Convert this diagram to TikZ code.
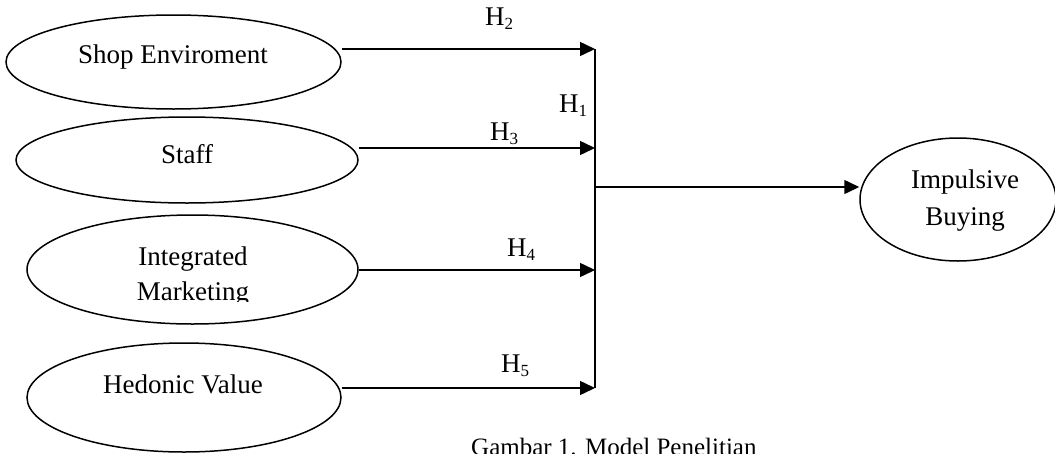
\documentclass[tikz,border=0pt]{standalone}
\usepackage{fontspec}
\setmainfont{Liberation Serif}
\usetikzlibrary{shapes.geometric,arrows.meta}
\newcommand{\hlab}[1]{H\raisebox{-4pt}{\fontsize{17}{17}\selectfont #1}}
\tikzset{
  oval/.style={draw, ellipse, line width=1.5pt, inner sep=0pt},
  lbl/.style={anchor=base, inner sep=0pt, font=\fontsize{27}{32}\selectfont},
  arr/.style={line width=1.5pt, -{Triangle[length=15pt,width=14pt]}},
  ln/.style={line width=1.5pt}
}
\begin{document}
\begin{tikzpicture}[x=1pt,y=-1pt]
\useasboundingbox (0,0) rectangle (1055,453);
% ellipses
\node[oval, minimum width=335pt, minimum height=94pt] (e1) at (173.5,62) {};
\node[oval, minimum width=342pt, minimum height=86pt] (e2) at (187,160) {};
\node[oval, minimum width=331pt, minimum height=109pt] (e3) at (192.5,269.5) {};
\node[oval, minimum width=314pt, minimum height=109pt] (e4) at (184,397.5) {};
\node[oval, minimum width=196pt, minimum height=123pt] (e5) at (958,199.5) {};
% texts
\node[lbl] (t1) at (173,63) {Shop Enviroment};
\node[lbl] (t2) at (187,163) {Staff};
\node[lbl] (t3a) at (193,265) {Integrated};
\begin{scope}
\clip (0,0) rectangle (1055,301);
\node[lbl] (t3b) at (193,300) {Marketing};
\end{scope}
\node[lbl] (t4) at (183,393) {Hedonic Value};
\node[lbl] (t5a) at (965,188) {Impulsive};
\node[lbl] (t5b) at (965,225) {Buying};
% junction coordinates
\coordinate (j2) at (595,49);
\coordinate (j3) at (595,148);
\coordinate (j4) at (595,270);
\coordinate (j5) at (595,388);
\coordinate (jm) at (595,187);
% connectors
\draw[arr] (e1.east |- j2) -- (j2);
\draw[arr] (e2.east |- j3) -- (j3);
\draw[arr] (e3.east |- j4) -- (j4);
\draw[arr] (e4.east |- j5) -- (j5);
\draw[ln] (j2) -- (j5);
\draw[arr] (jm) -- (e5.west |- jm);
% hypothesis labels
\node[lbl] (h2) at (499,25) {\hlab{2}};
\node[lbl] (h1) at (573,112) {\hlab{1}};
\node[lbl] (h3) at (504,140) {\hlab{3}};
\node[lbl] (h4) at (521,256) {\hlab{4}};
\node[lbl] (h5) at (515,372) {\hlab{5}};
% caption
\node[anchor=base west, inner sep=0pt, font=\fontsize{25}{30}\selectfont] (cap) at (471,455.5) {Gambar 1. Model Penelitian};
\end{tikzpicture}
\end{document}
